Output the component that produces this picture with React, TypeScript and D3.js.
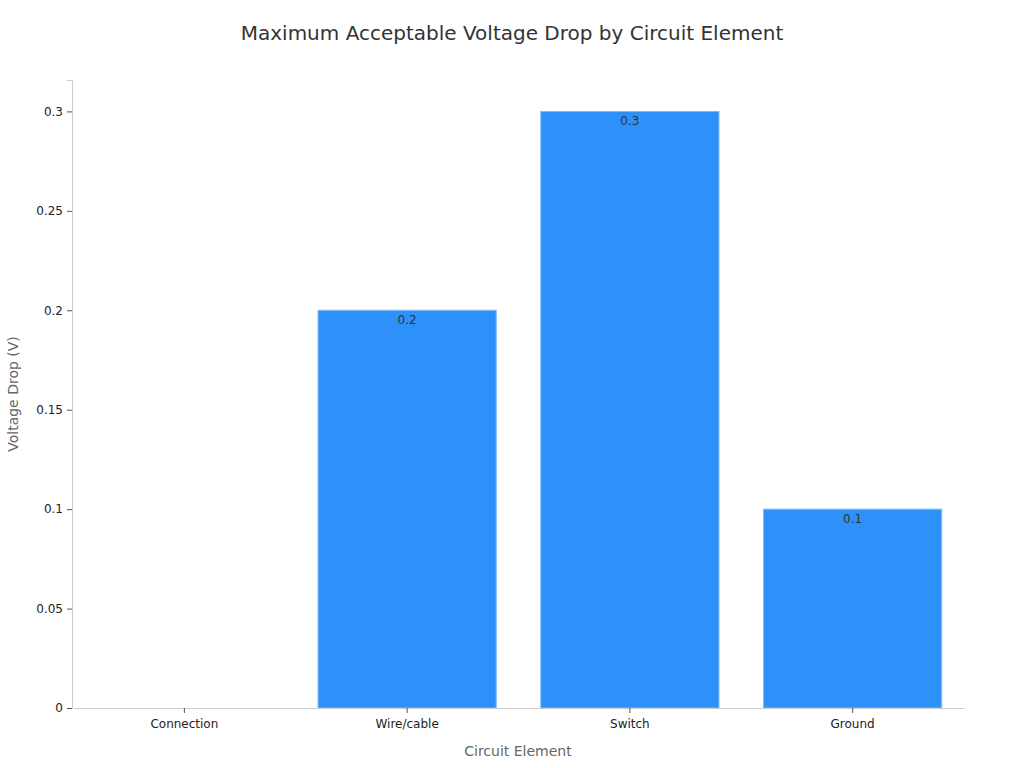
import { useEffect, useRef } from 'react'
import * as d3 from 'd3'

const categories = ['Connection', 'Wire/cable', 'Switch', 'Ground']
const voltageDrop = [0, 0.2, 0.3, 0.1]
const yTicks = [0, 0.05, 0.1, 0.15, 0.2, 0.25, 0.3]

export default function App() {
  const svgRef = useRef<SVGSVGElement>(null)

  useEffect(() => {
    if (!svgRef.current) return
    const svg = d3.select(svgRef.current)
    svg.selectAll('*').remove()

    const width = 1024
    const height = 768
    const margin = { top: 80, right: 60, bottom: 60, left: 72 }
    const font = 'DejaVu Sans, sans-serif'

    const x = d3.scaleBand<string>()
      .domain(categories)
      .range([margin.left + 1, width - margin.right])
      .paddingInner(0.2)
      .paddingOuter(0.1)

    const y = d3.scaleLinear()
      .domain([0, 0.3158])
      .range([height - margin.bottom, margin.top])

    // Title
    svg.append('text')
      .attr('x', width / 2)
      .attr('y', 40)
      .attr('text-anchor', 'middle')
      .style('font-family', font)
      .style('font-size', '20px')
      .style('fill', '#333')
      .text('Maximum Acceptable Voltage Drop by Circuit Element')

    // Bars
    const data = categories.map((c, i) => ({ c, v: voltageDrop[i] }))
    svg.selectAll('.bar')
      .data(data.filter(d => d.v > 0))
      .enter().append('rect')
      .attr('x', d => x(d.c)!)
      .attr('y', d => y(d.v))
      .attr('width', x.bandwidth())
      .attr('height', d => y(0) - y(d.v))
      .attr('fill', '#2e91f9')
      .attr('stroke', '#7dbcfb')
      .attr('stroke-width', 1)

    // Value labels
    svg.selectAll('.label')
      .data(data.filter(d => d.v > 0))
      .enter().append('text')
      .attr('x', d => x(d.c)! + x.bandwidth() / 2)
      .attr('y', d => y(d.v) + 14)
      .attr('text-anchor', 'middle')
      .style('font-family', font)
      .style('font-size', '12px')
      .style('fill', '#333')
      .text(d => String(d.v))

    // Y axis
    const yAxis = svg.append('g')
      .attr('transform', `translate(${margin.left},0)`)
      .call(d3.axisLeft(y).tickValues(yTicks).tickSize(5).tickPadding(4).tickFormat(d => String(d)))
    yAxis.select('.domain').attr('stroke', '#ccc')
    yAxis.selectAll('.tick line').attr('stroke', '#555')
    yAxis.selectAll('.tick text')
      .style('font-family', font)
      .style('font-size', '12px')
      .style('fill', '#222')

    // X axis
    const xAxis = svg.append('g')
      .attr('transform', `translate(0,${height - margin.bottom})`)
      .call(d3.axisBottom(x).tickSize(5).tickSizeOuter(0).tickPadding(6))
    xAxis.select('.domain').attr('stroke', '#ccc')
    xAxis.selectAll('.tick line').attr('stroke', '#555')
    xAxis.selectAll('.tick text')
      .style('font-family', font)
      .style('font-size', '12px')
      .style('fill', '#222')

    // Axis titles
    svg.append('text')
      .attr('x', (margin.left + width - margin.right) / 2)
      .attr('y', 756)
      .attr('text-anchor', 'middle')
      .style('font-family', font)
      .style('font-size', '14px')
      .style('fill', '#666')
      .text('Circuit Element')

    svg.append('text')
      .attr('transform', `translate(18,${(margin.top + height - margin.bottom) / 2}) rotate(-90)`)
      .attr('text-anchor', 'middle')
      .style('font-family', font)
      .style('font-size', '14px')
      .style('fill', '#666')
      .text('Voltage Drop (V)')
  }, [])

  return (
    <svg ref={svgRef} width={1024} height={768}
      style={{ position: 'absolute', left: 0, top: 0, background: '#fff' }} />
  )
}
